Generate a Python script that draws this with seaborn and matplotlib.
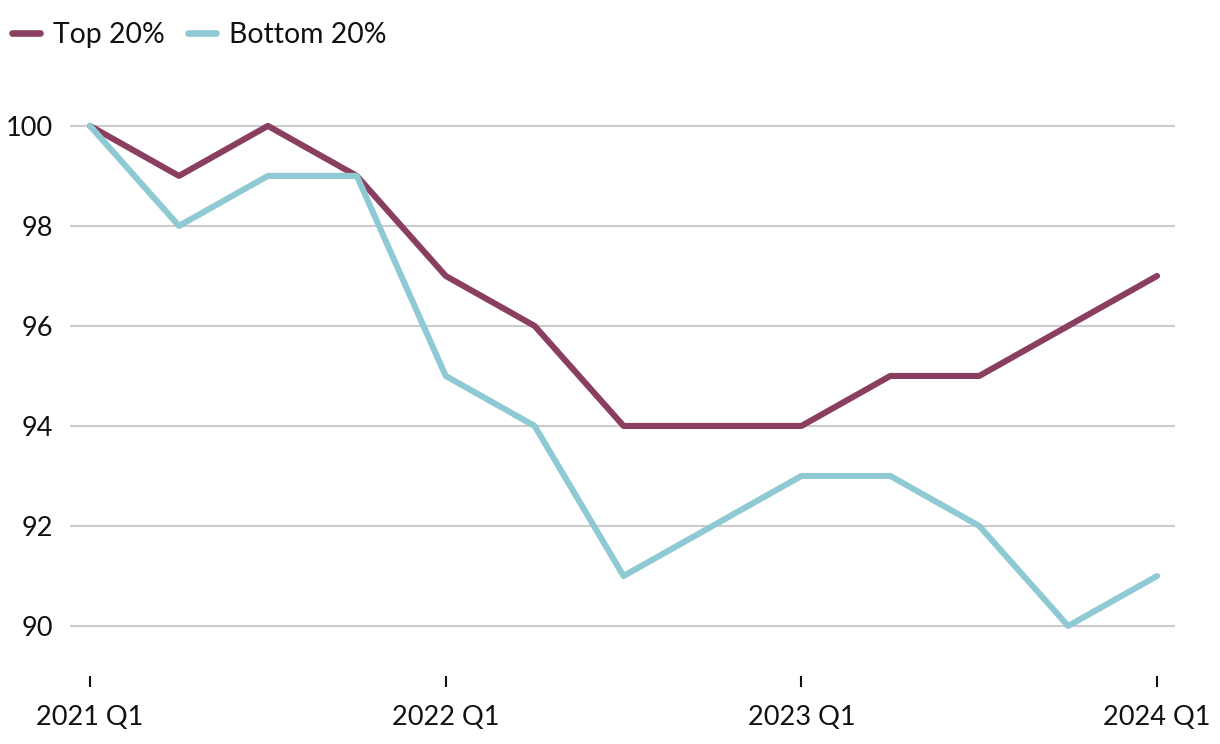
import pandas as pd
import matplotlib.pyplot as plt
import seaborn as sns

# Quarterly index values, 2021 Q1 = 100
quarters = ["2021 Q1", "2021 Q2", "2021 Q3", "2021 Q4",
            "2022 Q1", "2022 Q2", "2022 Q3", "2022 Q4",
            "2023 Q1", "2023 Q2", "2023 Q3", "2023 Q4",
            "2024 Q1"]
top_20 = [100, 99, 100, 99, 97, 96, 94, 94, 94, 95, 95, 96, 97]
bottom_20 = [100, 98, 99, 99, 95, 94, 91, 92, 93, 93, 92, 90, 91]
series_names = ["Top 20%", "Bottom 20%"]
series_colors = ["#8b3f60", "#8fcad4"]
tick_quarters = ["2021 Q1", "2022 Q1", "2023 Q1", "2024 Q1"]
y_ticks = [90, 92, 94, 96, 98, 100]

df = pd.DataFrame({
    "quarter": quarters * 2,
    "idx": list(range(len(quarters))) * 2,
    "value": top_20 + bottom_20,
    "group": [series_names[0]] * len(quarters) + [series_names[1]] * len(quarters),
})

sns.set_style("white")
plt.rcParams["font.family"] = ["Lato", "DejaVu Sans"]

fig = plt.figure(figsize=(12.2, 7.44), dpi=100)
ax = fig.add_axes([0.0574, 0.0914, 0.9056, 0.8066])

sns.lineplot(data=df, x="idx", y="value", hue="group", hue_order=series_names,
             palette=series_colors, linewidth=4.4, ax=ax, zorder=3)

# Gridlines
for y in y_ticks:
    ax.axhline(y, color="#cccccc", linewidth=1.5, zorder=1)

ax.set_xlim(-0.225, 12.2)
ax.set_ylim(89, 101)
ax.set_yticks(y_ticks)
ax.set_yticklabels([str(v) for v in y_ticks], fontsize=19.5, color="#111111")
ax.set_xticks([quarters.index(q) for q in tick_quarters])
ax.set_xticklabels(tick_quarters, fontsize=19.5, color="#111111")
ax.tick_params(axis="y", length=0, pad=12)
ax.tick_params(axis="x", bottom=True, length=8, width=1.5, color="#111111",
               pad=13, direction="out")
ax.set_xlabel("")
ax.set_ylabel("")
for s in ax.spines.values():
    s.set_visible(False)

leg = ax.legend(loc="center left", bbox_to_anchor=(-0.0525, 1.068), ncol=2,
                frameon=False, fontsize=20.4, handlelength=1.0,
                handletextpad=0.45, columnspacing=0.8, borderaxespad=0,
                borderpad=0)
for line in leg.get_lines():
    line.set_linewidth(4.8)
    line.set_solid_capstyle("round")
for t in leg.get_texts():
    t.set_color("#111111")

plt.savefig("out.png", dpi=100)
plt.close()
